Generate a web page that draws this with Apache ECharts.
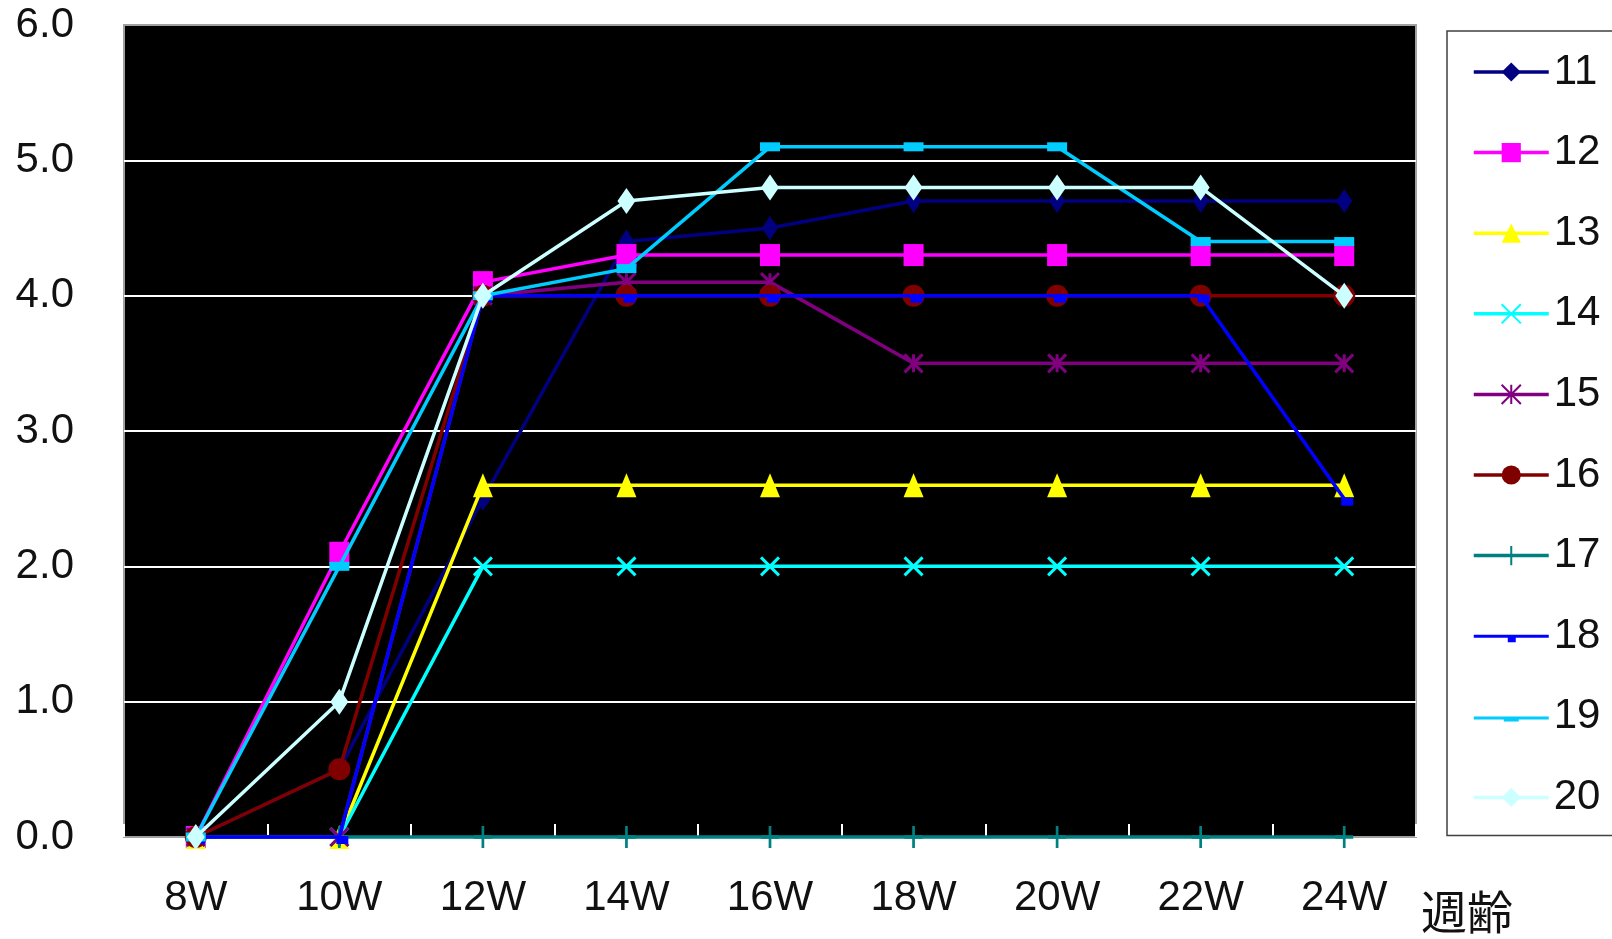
<!DOCTYPE html>
<html>
<head>
<meta charset="utf-8">
<script src="https://cdn.jsdelivr.net/npm/echarts@6/dist/echarts.min.js"></script>
<style>
html,body{margin:0;padding:0;background:#fff;}
#chart{width:1612px;height:939px;}
</style>
</head>
<body>
<div id="chart"></div>
<script>
// ---- data ----
const categories = ['8W','10W','12W','14W','16W','18W','20W','22W','24W'];
const seriesNames = ['11','12','13','14','15','16','17','18','19','20'];
const s11 = [0, 0.5, 2.5, 4.4, 4.5, 4.7, 4.7, 4.7, 4.7];
const s12 = [0, 2.1, 4.1, 4.3, 4.3, 4.3, 4.3, 4.3, 4.3];
const s13 = [0, 0, 2.6, 2.6, 2.6, 2.6, 2.6, 2.6, 2.6];
const s14 = [0, 0, 2.0, 2.0, 2.0, 2.0, 2.0, 2.0, 2.0];
const s15 = [0, 0, 4.0, 4.1, 4.1, 3.5, 3.5, 3.5, 3.5];
const s16 = [0, 0.5, 4.0, 4.0, 4.0, 4.0, 4.0, 4.0, 4.0];
const s17 = [0, 0, 0, 0, 0, 0, 0, 0, 0];
const s18 = [0, 0, 4.0, 4.0, 4.0, 4.0, 4.0, 4.0, 2.5];
const s19 = [0, 2.0, 4.0, 4.2, 5.1, 5.1, 5.1, 4.4, 4.4];
const s20 = [0, 1.0, 4.0, 4.7, 4.8, 4.8, 4.8, 4.8, 4.0];
const yTickLabels = ['0.0','1.0','2.0','3.0','4.0','5.0','6.0'];
const axisName = '週齢';

// ---- styles ----
const colors = ['#000080','#FF00FF','#FFFF00','#00FFFF','#800080','#800000','#008080','#0000FF','#00CCFF','#CCFFFF'];
const symX = 'path://M0,0L10,10M10,0L0,10';
const symStar = 'path://M0,0L10,10M10,0L0,10M5,0L5,10';
const symPlus = 'path://M5,0L5,10M0,5L10,5';
const markers = [
  {symbol:'diamond', size:[16,24]},
  {symbol:'rect', size:[20,22]},
  {symbol:'triangle', size:[20,24]},
  {symbol:symX, size:[18,18], stroke:true},
  {symbol:symStar, size:[18,18], stroke:true},
  {symbol:'circle', size:22},
  {symbol:symPlus, size:[18,22], stroke:true},
  {symbol:'rect', size:[12,8], offset:[3,3]},
  {symbol:'rect', size:[20,9]},
  {symbol:'diamond', size:[18,26]}
];
// legend icons for the small dash markers (line + marker drawn as one path)
const legendIcons = {
  '18': 'path://M0,10.5L75,10.5L75,13.5L0,13.5Z M34,13.5L42,13.5L42,18L34,18Z M0,6L0.01,6L0.01,6.01Z',
  '19': 'path://M0,10.5L75,10.5L75,13.5L0,13.5Z M30,13.5L45,13.5L45,15.5L30,15.5Z M0,6L0.01,6L0.01,6.01Z'
};
const dataList = [s11,s12,s13,s14,s15,s16,s17,s18,s19,s20];

const series = dataList.map((d, i) => {
  const m = markers[i];
  const itemStyle = m.stroke
    ? {color: colors[i], borderColor: colors[i], borderWidth: 3}
    : {color: colors[i], borderWidth: 0};
  return {
    name: seriesNames[i],
    type: 'line',
    data: d,
    symbol: m.symbol,
    symbolSize: m.size,
    symbolOffset: m.offset || [0, 0],
    showAllSymbol: true,
    clip: false,
    lineStyle: {color: colors[i], width: 3.5},
    itemStyle: itemStyle,
    animation: false,
    z: 2 + i*0.01
  };
});

const legendData = seriesNames.map(n => legendIcons[n] ? {name: n, icon: legendIcons[n]} : {name: n});

const chart = echarts.init(document.getElementById('chart'), null, {renderer:'canvas'});
chart.setOption({
  backgroundColor: '#ffffff',
  animation: false,
  grid: {
    left: 124, right: 196, top: 25, bottom: 102,
    show: true, backgroundColor: '#000000', borderColor: '#a0a0a0', borderWidth: 2,
    containLabel: false
  },
  xAxis: {
    type: 'category',
    data: categories,
    boundaryGap: true,
    axisLine: {show: false},
    axisTick: {show: true, inside: true, length: 13, lineStyle: {color: '#ffffff', width: 2}},
    axisLabel: {
      margin: 40, color: '#111',
      fontFamily: "'Liberation Sans Narrow', 'Arial Narrow', 'Liberation Sans', sans-serif",
      fontSize: 42
    },
    splitLine: {show: false}
  },
  yAxis: {
    type: 'value',
    min: 0, max: 6, interval: 1,
    axisLine: {show: false},
    axisTick: {show: false},
    axisLabel: {
      margin: 50, color: '#111',
      fontFamily: "'Liberation Sans', Arial, sans-serif",
      fontSize: 42,
      formatter: (v) => yTickLabels[Math.round(v)]
    },
    splitLine: {show: true, lineStyle: {color: ['transparent','#ffffff','#ffffff','#ffffff','#ffffff','#ffffff','#a0a0a0'], width: 2}}
  },
  legend: {
    orient: 'vertical',
    left: 1447, top: 31,
    data: legendData,
    backgroundColor: '#ffffff',
    borderColor: '#404040', borderWidth: 1.5,
    padding: [16, 120, 13, 25],
    itemWidth: 75, itemHeight: 24, itemGap: 30.6,
    lineStyle: {width: 3.5},
    textStyle: {
      color: '#111',
      fontFamily: "'Liberation Sans Narrow', 'Arial Narrow', 'Liberation Sans', sans-serif",
      fontSize: 42, lineHeight: 50
    },
    selectedMode: false
  },
  graphic: [{
    type: 'text',
    left: 1421, top: 889,
    style: {
      text: axisName,
      fontFamily: "'Noto Sans CJK JP', sans-serif",
      fontSize: 46,
      fill: '#111'
    }
  }],
  series: series
});
</script>
</body>
</html>
